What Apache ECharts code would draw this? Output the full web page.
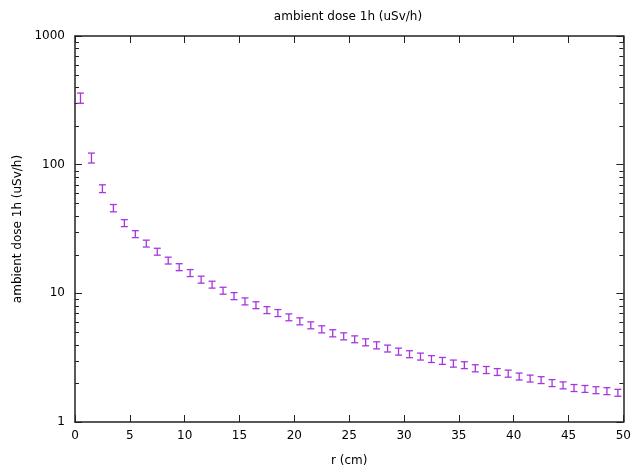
<!DOCTYPE html>
<html><head><meta charset="utf-8">
<script src="https://cdn.jsdelivr.net/npm/echarts@6/dist/echarts.min.js"></script>
<style>html,body{margin:0;padding:0;background:#fff}#c{width:634px;height:472px}</style>
</head><body><div id="c"></div>
<script>
const titleText = 'ambient dose 1h (uSv/h)';
const xName = 'r (cm)';
const yName = 'ambient dose 1h (uSv/h)';
const r = [0.5,1.5,2.5,3.5,4.5,5.5,6.5,7.5,8.5,9.5,10.5,11.5,12.5,13.5,14.5,15.5,16.5,17.5,18.5,19.5,
           20.5,21.5,22.5,23.5,24.5,25.5,26.5,27.5,28.5,29.5,30.5,31.5,32.5,33.5,34.5,35.5,36.5,37.5,38.5,39.5,
           40.5,41.5,42.5,43.5,44.5,45.5,46.5,47.5,48.5,49.5];
const dose = [330,113,65.2,46.0,35.2,28.9,24.4,21.1,18.0,16.0,14.4,12.8,11.7,10.5,9.53,8.67,8.10,7.42,7.04,6.52,
              6.07,5.65,5.26,4.90,4.64,4.40,4.17,3.95,3.73,3.53,3.37,3.23,3.09,2.99,2.85,2.77,2.62,2.54,2.45,2.38,
              2.26,2.18,2.12,2.01,1.93,1.84,1.81,1.77,1.74,1.69];
const doseErr = [30,10,4.5,3.0,2.2,1.8,1.5,1.3,1.1,1.0,0.9,0.8,0.72,0.65,0.6,0.54,0.5,0.46,0.44,0.4,
                 0.38,0.35,0.33,0.31,0.29,0.27,0.26,0.25,0.23,0.22,0.21,0.2,0.19,0.185,0.18,0.17,0.165,0.16,0.15,0.15,
                 0.14,0.135,0.13,0.125,0.12,0.115,0.112,0.11,0.108,0.105];
const xTicks = [0,5,10,15,20,25,30,35,40,45,50];
const yTicks = [1,10,100,1000];
const yMinorTicks = [2,3,4,5,6,7,8,9,20,30,40,50,60,70,80,90,200,300,400,500,600,700,800,900];

const color = '#a735e0';
const axisColor = '#222';
const font = 'DejaVu Sans';

const chart = echarts.init(document.getElementById('c'), null, {renderer:'canvas'});
const axLine = {show:true, onZero:false, lineStyle:{color:axisColor, width:1.5}};
const axTick = {show:true, inside:true, length:7, lineStyle:{color:axisColor, width:1}};
chart.setOption({
  animation:false,
  backgroundColor:'#fff',
  title:{text:titleText, left:343, top:6, textAlign:'center',
    textStyle:{fontFamily:font, fontSize:12, fontWeight:'normal', color:'#000'}},
  grid:{left:75, right:9, top:36, bottom:49, containLabel:false},
  xAxis:[{type:'value', min:0, max:50, interval:5, position:'bottom',
      name:xName, nameLocation:'middle', nameGap:33,
      nameTextStyle:{fontFamily:font, fontSize:12, color:'#000'},
      axisLine:axLine, axisTick:axTick, splitLine:{show:false},
      axisLabel:{fontFamily:font, fontSize:12, color:'#000', margin:8,
        formatter:v=>xTicks.includes(v)?String(v):''}},
    {type:'value', min:0, max:50, interval:5, position:'top',
      axisLine:axLine, axisTick:axTick, splitLine:{show:false}, axisLabel:{show:false}}],
  yAxis:[{type:'log', logBase:10, min:1, max:1000, position:'left',
      name:yName, nameLocation:'middle', nameGap:47,
      nameTextStyle:{fontFamily:font, fontSize:12, color:'#000'},
      axisLine:axLine, axisTick:axTick, splitLine:{show:false}, minorTick:{show:false},
      axisLabel:{fontFamily:font, fontSize:12, color:'#000', margin:10,
        formatter:v=>{const t=yTicks.find(k=>Math.abs(k-v)<1e-6*k);return t?String(t):'';}}},
    {type:'log', logBase:10, min:1, max:1000, position:'right',
      axisLine:axLine, axisTick:axTick, splitLine:{show:false}, axisLabel:{show:false}}],
  series:[
    {type:'custom', xAxisIndex:0, yAxisIndex:0, silent:true,
      data: yMinorTicks.map(v=>[0, v]),
      renderItem:function(params, api){
        const p = api.coord([0, api.value(1)]);
        const cs = params.coordSys;
        const y = Math.round(p[1]) + 0.5;
        const st = {stroke:axisColor, lineWidth:1};
        return {type:'group', children:[
          {type:'line', shape:{x1:cs.x, y1:y, x2:cs.x+4, y2:y}, style:st},
          {type:'line', shape:{x1:cs.x+cs.width-4, y1:y, x2:cs.x+cs.width, y2:y}, style:st}
        ]};
      }, z:1},
    {type:'custom', xAxisIndex:0, yAxisIndex:0, silent:true,
      data: r.map((x,i)=>[x, dose[i], doseErr[i]]),
      renderItem:function(params, api){
        const x = api.value(0), y = api.value(1), e = api.value(2);
        const t = api.coord([x, y+e]), b = api.coord([x, y-e]);
        const w = 3.5;
        const st = {stroke:color, lineWidth:1.3};
        return {type:'group', children:[
          {type:'line', shape:{x1:t[0], y1:t[1], x2:b[0], y2:b[1]}, style:st},
          {type:'line', shape:{x1:t[0]-w, y1:t[1], x2:t[0]+w, y2:t[1]}, style:st},
          {type:'line', shape:{x1:b[0]-w, y1:b[1], x2:b[0]+w, y2:b[1]}, style:st}
        ]};
      }, z:3}
  ]
});
</script></body></html>
